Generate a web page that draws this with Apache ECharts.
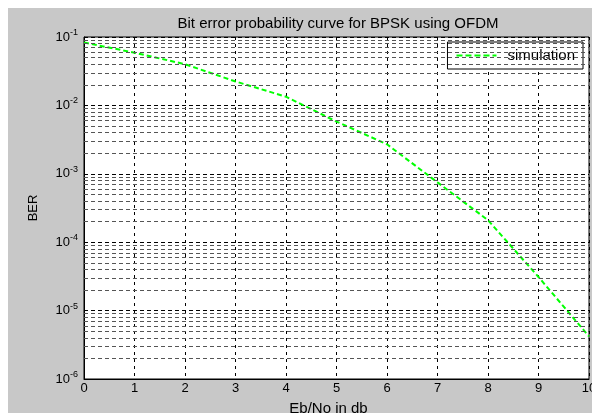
<!DOCTYPE html>
<html><head><meta charset="utf-8">
<script src="https://cdn.jsdelivr.net/npm/echarts@6/dist/echarts.min.js"></script>
<style>html,body{margin:0;padding:0;background:#fff}#c{width:592px;height:413px}</style>
</head><body><div id="c"></div>
<script>
const titleText = 'Bit error probability curve for BPSK using OFDM';
const xLabel = 'Eb/No in db';
const yLabel = 'BER';
const seriesName = 'simulation';
const ebno = [0, 1, 2, 3, 4, 5, 6, 7, 8, 9, 10];
const ber = [0.083, 0.059, 0.040, 0.0224, 0.0134, 0.0058, 0.0027, 0.00075, 0.00021, 0.000031, 0.0000042];
const xTicks = [0, 1, 2, 3, 4, 5, 6, 7, 8, 9, 10];
const decades = [-6, -5, -4, -3, -2, -1];

const minorVals = [];
for (let i = 0; i < decades.length - 1; i++) {
  for (let k = 2; k <= 9; k++) minorVals.push(k * Math.pow(10, decades[i]));
}
const sup = (v) => {
  const e = Math.round(Math.log10(v));
  return '10{s|' + e + '}';
};
const chart = echarts.init(document.getElementById('c'), null, {renderer: 'canvas'});
chart.setOption({
  animation: false,
  backgroundColor: '#fff',
  graphic: [{type: 'rect', z: -10, shape: {x: 8, y: 8, width: 600, height: 420}, style: {fill: '#c8c8c8'}}],
  title: {text: titleText, left: 333, top: 11, textAlign: 'center',
    textStyle: {fontFamily: 'Liberation Sans', fontSize: 15, fontWeight: 'normal', color: '#000'}},
  legend: {data: [seriesName], right: 9, top: 42, backgroundColor: '#fff', borderColor: '#000', borderWidth: 1,
    padding: [6, 8, 6, 8], itemWidth: 40, itemHeight: 14, itemGap: 10,
    itemStyle: {opacity: 0},
    lineStyle: {width: 2, type: [6, 3]},
    textStyle: {fontFamily: 'Liberation Sans', fontSize: 15, color: '#000', padding: [0, 0, 0, 6]}},
  grid: {left: 84, top: 37, right: 3, bottom: 34, outerBoundsMode: 'none', containLabel: false,
    show: true, backgroundColor: '#fff', borderColor: '#000', borderWidth: 1},
  xAxis: {type: 'value', min: 0, max: 10, interval: 1,
    name: xLabel, nameLocation: 'middle', nameGap: 22,
    nameTextStyle: {fontFamily: 'Liberation Sans', fontSize: 15, color: '#000', padding: [0, 16, 0, 0]},
    axisLine: {lineStyle: {color: '#000'}}, axisTick: {show: false},
    axisLabel: {fontFamily: 'Liberation Sans', fontSize: 13, color: '#000', margin: 3,
      formatter: (v) => xTicks.includes(v) ? String(v) : ''},
    splitLine: {show: true, lineStyle: {color: '#000', type: [3, 4], width: 1}}},
  yAxis: {type: 'log', logBase: 10, min: 1e-6, max: 1e-1,
    name: yLabel, nameLocation: 'middle', nameGap: 44, nameRotate: 90,
    nameTextStyle: {fontFamily: 'Liberation Sans', fontSize: 13, color: '#000'},
    axisLine: {show: true, lineStyle: {color: '#000'}}, axisTick: {show: false},
    axisLabel: {fontFamily: 'Liberation Sans', fontSize: 13, color: '#000', margin: 6,
      formatter: sup, rich: {s: {fontSize: 9, verticalAlign: 'top', padding: [0, 0, 9, 0], fontFamily: 'Liberation Sans', color: '#000'}}},
    splitLine: {show: true, lineStyle: {color: '#000', type: [4, 3], width: 1}}},
  series: [{
    name: seriesName, type: 'line', symbol: 'none',
    data: ebno.map((x, i) => [x, ber[i]]),
    lineStyle: {color: '#00ff00', width: 2, type: [5, 3]},
    itemStyle: {color: '#00ff00'},
    markLine: {silent: true, symbol: 'none', precision: 12, label: {show: false},
      lineStyle: {color: '#555', type: [4, 3], width: 1},
      emphasis: {disabled: true},
      data: minorVals.map(v => ({yAxis: v}))}
  }]
});
</script></body></html>
